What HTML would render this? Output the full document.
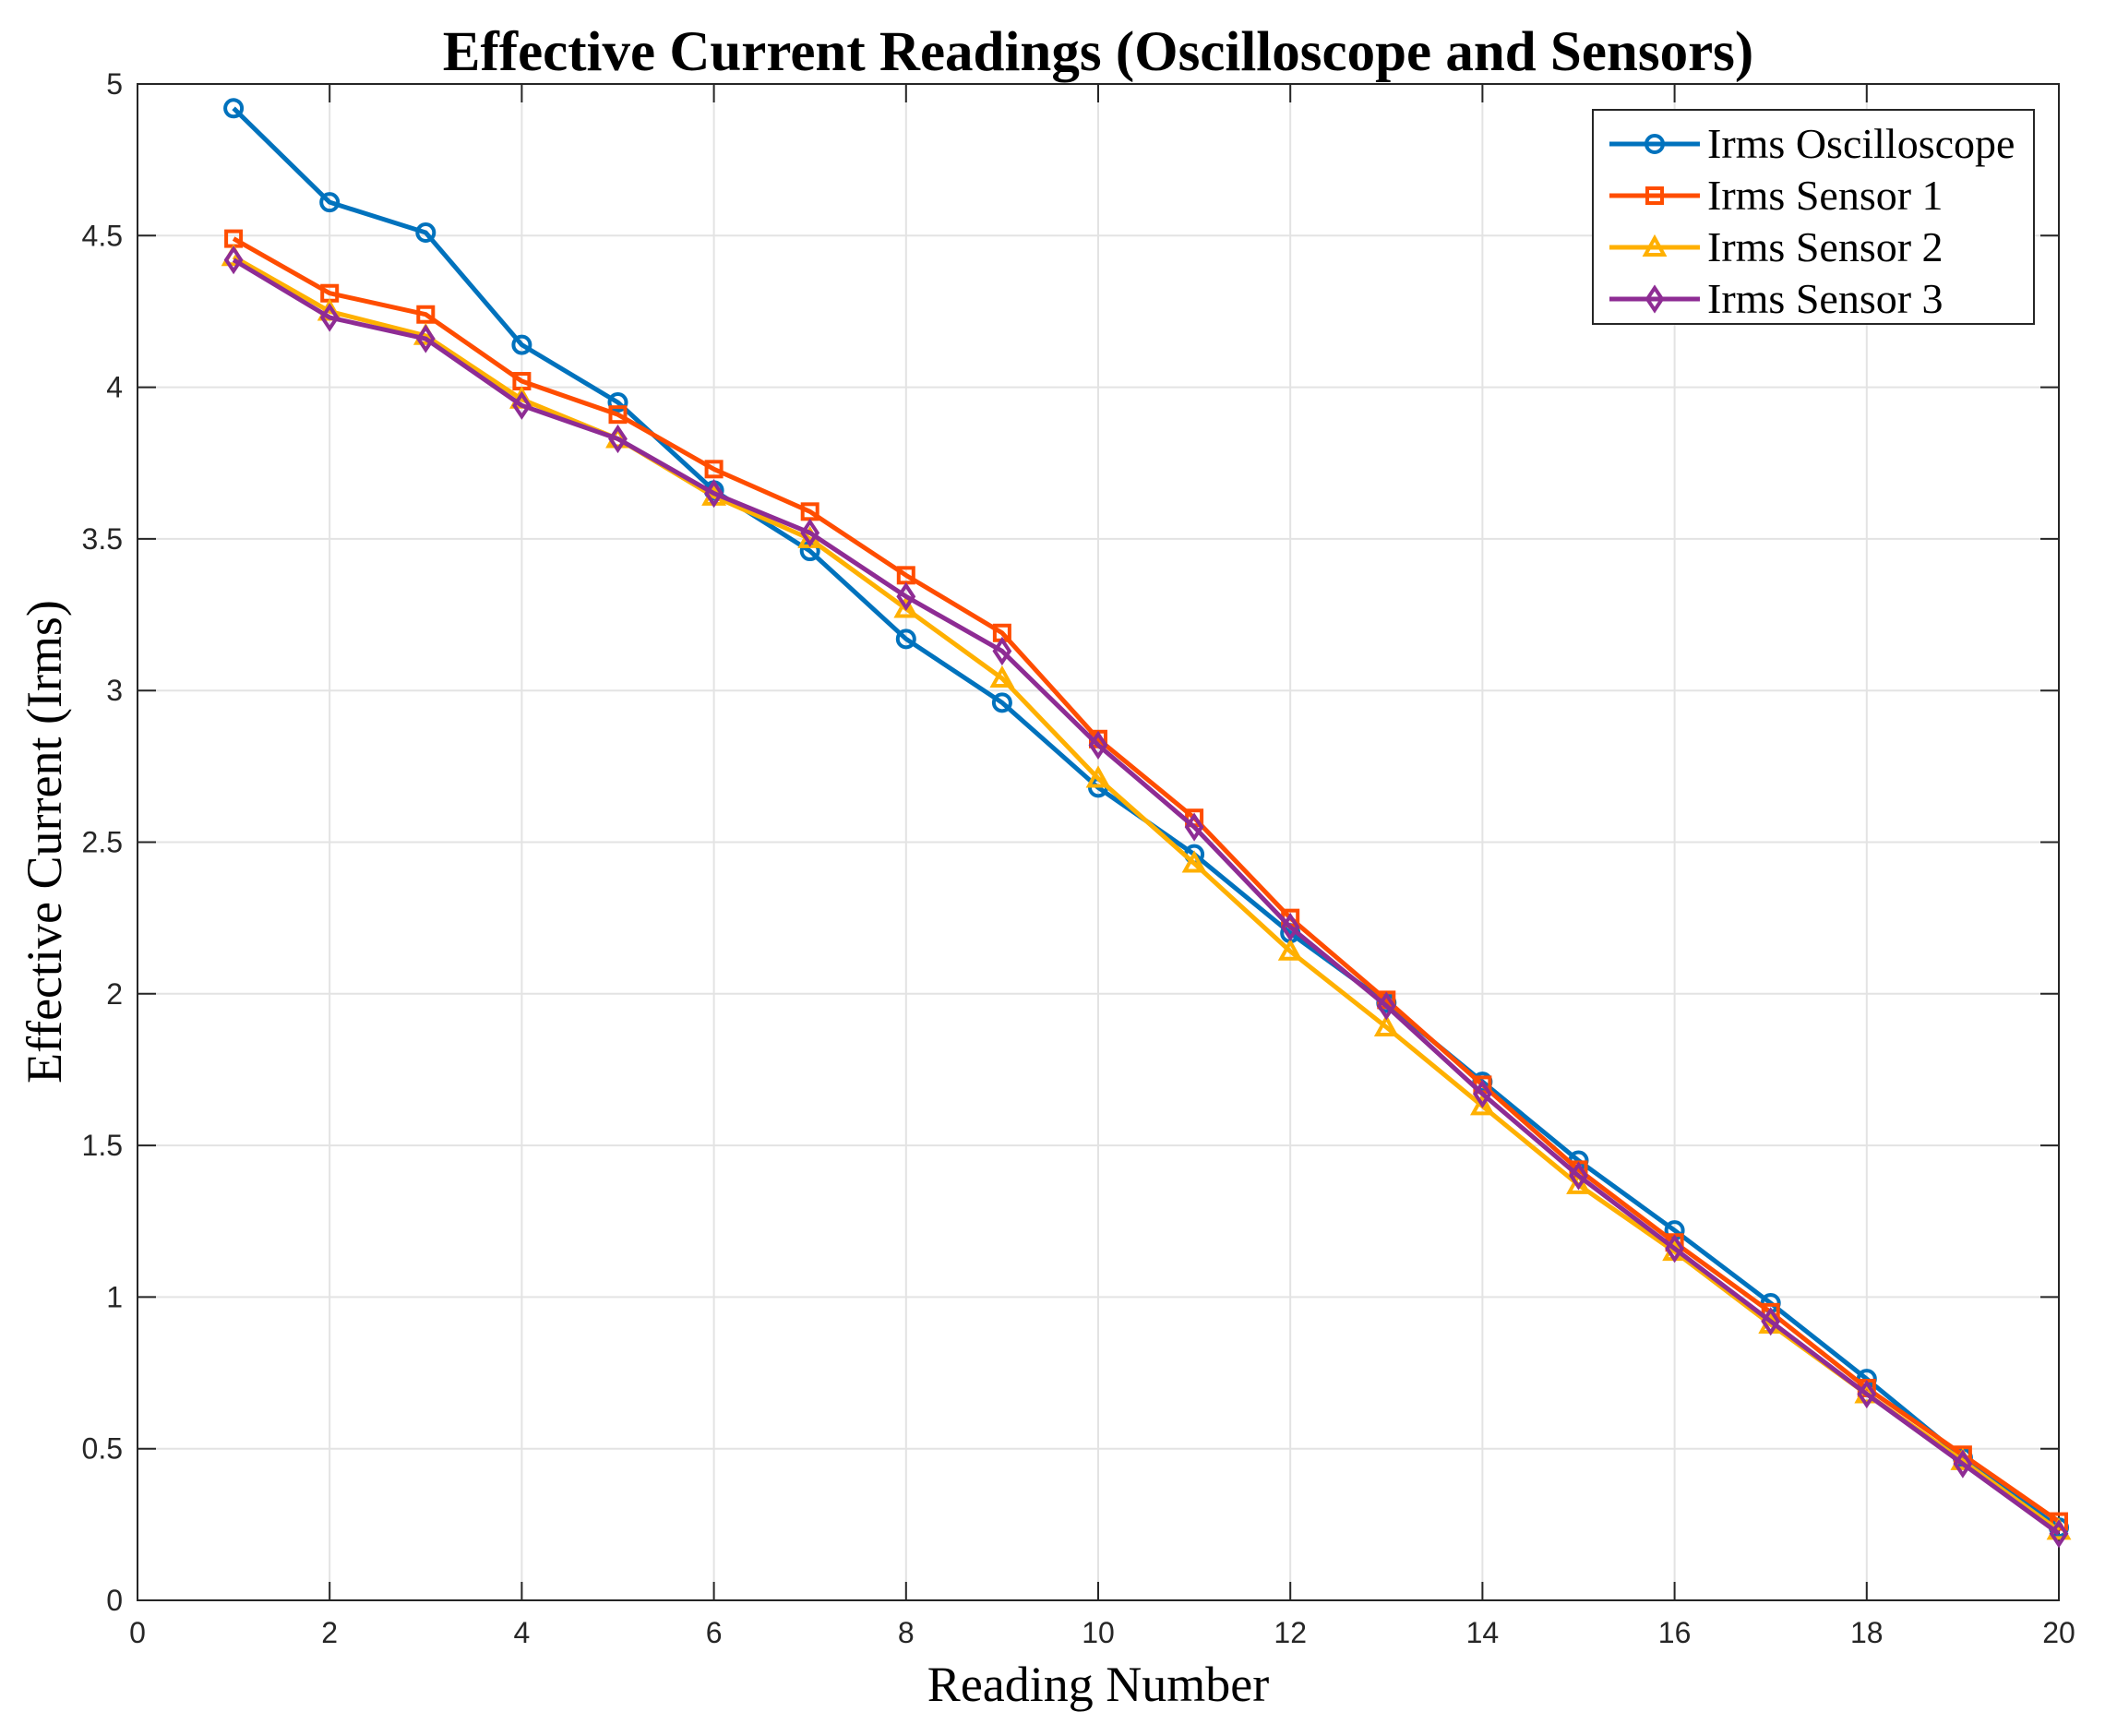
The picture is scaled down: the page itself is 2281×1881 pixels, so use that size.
<!DOCTYPE html>
<html><head><meta charset="utf-8"><style>
html,body{margin:0;padding:0;background:#fff}
svg{display:block}
</style></head><body>
<svg id="chart" width="2281" height="1881" xmlns="http://www.w3.org/2000/svg">
<rect width="2281" height="1881" fill="#fff"/>
<g id="grid"></g>
<g id="axes"></g>
<g id="series"></g>
<text x="1190" y="76" text-anchor="middle" font-family="Liberation Serif, serif" font-weight="bold" font-size="61">Effective Current Readings (Oscilloscope and Sensors)</text>
<text x="1190" y="1843" text-anchor="middle" font-family="Liberation Serif, serif" font-size="54">Reading Number</text>
<text transform="translate(66,912) rotate(-90)" text-anchor="middle" font-family="Liberation Serif, serif" font-size="54">Effective Current (Irms)</text>
<g id="legend"></g>
</svg>
<script>
const readings = [1,2,3,4,5,6,7,8,9,10,11,12,13,14,15,16,17,18,19,20];
const oscValues = [4.92,4.61,4.51,4.14,3.95,3.66,3.46,3.17,2.96,2.68,2.46,2.20,1.97,1.71,1.45,1.22,0.98,0.73,0.47,0.24];
const sensor1Values = [4.49,4.31,4.24,4.02,3.91,3.73,3.59,3.38,3.19,2.84,2.58,2.25,1.98,1.70,1.42,1.18,0.95,0.70,0.48,0.26];
const sensor2Values = [4.43,4.25,4.17,3.96,3.83,3.64,3.50,3.27,3.04,2.71,2.43,2.14,1.89,1.63,1.37,1.15,0.91,0.68,0.46,0.23];
const sensor3Values = [4.42,4.23,4.16,3.94,3.83,3.65,3.52,3.31,3.13,2.82,2.55,2.22,1.96,1.67,1.40,1.16,0.92,0.68,0.45,0.22];
const seriesNames = ["Irms Oscilloscope","Irms Sensor 1","Irms Sensor 2","Irms Sensor 3"];
const xTicks = [0,2,4,6,8,10,12,14,16,18,20];
const yTicks = [0,0.5,1,1.5,2,2.5,3,3.5,4,4.5,5];
const yTickLabels = ["0","0.5","1","1.5","2","2.5","3","3.5","4","4.5","5"];

const NS="http://www.w3.org/2000/svg";
const L=149,R=2231,T=91,B=1734;
const xs=v=>L+(v-0)/(20-0)*(R-L);
const ys=v=>B-(v-0)/(5-0)*(B-T);
function mk(tag,attrs,parent){const e=document.createElementNS(NS,tag);for(const k in attrs)e.setAttribute(k,attrs[k]);parent.appendChild(e);return e;}
const grid=document.getElementById('grid'),axes=document.getElementById('axes'),ser=document.getElementById('series'),leg=document.getElementById('legend');
mk('rect',{x:L,y:T,width:R-L,height:B-T,fill:'#fff'},grid);
xTicks.forEach(t=>{
  const g=mk('line',{x1:xs(t),x2:xs(t),y1:T,y2:B,stroke:'#e3e3e3','stroke-width':2},grid);
  
  
  mk('line',{x1:xs(t),x2:xs(t),y1:B,y2:B-20,stroke:'#262626','stroke-width':2},axes);
  mk('line',{x1:xs(t),x2:xs(t),y1:T,y2:T+20,stroke:'#262626','stroke-width':2},axes);
  const tx=mk('text',{x:xs(t),y:B+46,'text-anchor':'middle','font-family':'Liberation Sans, sans-serif','font-size':32,fill:'#262626'},axes);
  tx.textContent=t;
  
  
});
yTicks.forEach((t,i)=>{
  const g=mk('line',{x1:L,x2:R,y1:ys(t),y2:ys(t),stroke:'#e3e3e3','stroke-width':2},grid);
  
  
  mk('line',{x1:L,x2:L+20,y1:ys(t),y2:ys(t),stroke:'#262626','stroke-width':2},axes);
  mk('line',{x1:R,x2:R-20,y1:ys(t),y2:ys(t),stroke:'#262626','stroke-width':2},axes);
  const tx=mk('text',{x:L-16,y:ys(t)+11,'text-anchor':'end','font-family':'Liberation Sans, sans-serif','font-size':32,fill:'#262626'},axes);
  tx.textContent=yTickLabels[i];
  
  
});
const frame=mk('rect',{x:L,y:T,width:R-L,height:B-T,fill:'none',stroke:'#262626','stroke-width':2},axes);



const colors=['#0072BD','#FF4D00','#FFB000','#8E2C94'];
const shapes=['circle','square','triangle','diamond'];
const data=[oscValues,sensor1Values,sensor2Values,sensor3Values];
function marker(shape,x,y,c,parent){
  const st={fill:'none',stroke:c,'stroke-width':4};
  let e;
  if(shape==='circle') e=mk('circle',Object.assign({cx:x,cy:y,r:9},st),parent);
  else if(shape==='square') e=mk('rect',Object.assign({x:x-8,y:y-8,width:16,height:16},st),parent);
  else if(shape==='triangle') e=mk('polygon',Object.assign({points:`${x},${y-10} ${x+10},${y+8} ${x-10},${y+8}`},st),parent);
  else e=mk('polygon',Object.assign({points:`${x},${y-12} ${x+8},${y} ${x},${y+12} ${x-8},${y}`},st),parent);
  return e;
}
data.forEach((vals,si)=>{
  const g=mk('g',{},ser);
  
  
  const pts=vals.map((v,i)=>xs(readings[i])+','+ys(v)).join(' ');
  const pl=mk('polyline',{points:pts,fill:'none',stroke:colors[si],'stroke-width':5,'stroke-linejoin':'round'},g);
  
  
  vals.forEach((v,i)=>{
    const m=marker(shapes[si],xs(readings[i]),ys(v),colors[si],g);
    
    
  });
});
const box=mk('rect',{x:1726,y:119,width:478,height:232,fill:'#fff',stroke:'#262626','stroke-width':2},leg);


seriesNames.forEach((n,i)=>{
  const y=156+i*56;
  const g=mk('g',{},leg);
  
  
  mk('line',{x1:1744,x2:1842,y1:y,y2:y,stroke:colors[i],'stroke-width':5},g);
  marker(shapes[i],1793,y,colors[i],g);
  const t=mk('text',{x:1850,y:y+15,'font-family':'Liberation Serif, serif','font-size':46,fill:'#000'},g);
  t.textContent=n;
});
</script>
</body></html>
